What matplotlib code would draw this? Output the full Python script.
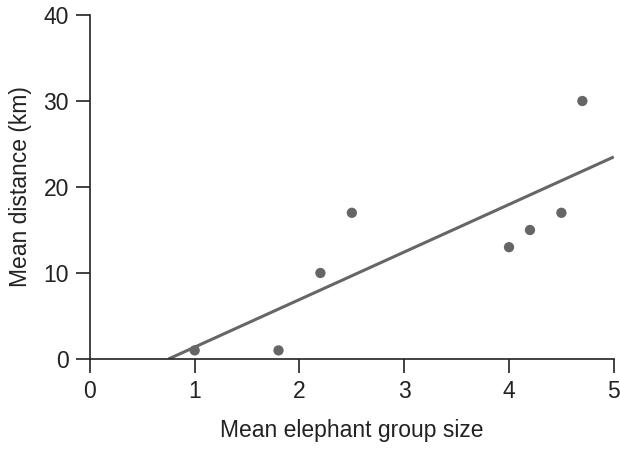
import numpy as np
import matplotlib
matplotlib.use("Agg")
import matplotlib.pyplot as plt

plt.rcParams['font.family'] = ['Liberation Sans', 'DejaVu Sans']

# observed points
group_size = [1.0, 1.8, 2.2, 2.5, 4.0, 4.2, 4.5, 4.7]
distance = [1, 1, 10, 17, 13, 15, 17, 30]

# fitted line end points
fit_x = [0.75, 5.0]
fit_y = [0.0, 23.5]

x_ticks = [0, 1, 2, 3, 4, 5]
y_ticks = [0, 10, 20, 30, 40]

fig = plt.figure(figsize=(6.2, 4.55), dpi=100)
ax = fig.add_axes([0.145, 0.211, 0.845, 0.756])

ax.plot(fit_x, fit_y, color='#666666', lw=2.2, solid_capstyle='butt', zorder=2)
ax.scatter(group_size, distance, s=55, color='#666666', edgecolors='none', zorder=3)

ax.set_xlim(0, 5)
ax.set_ylim(0, 40)
ax.set_xticks(x_ticks)
ax.set_yticks(y_ticks)

for s in ['top', 'right']:
    ax.spines[s].set_visible(False)
for s in ['left', 'bottom']:
    ax.spines[s].set_color('#222222')
    ax.spines[s].set_linewidth(1.2)

ax.tick_params(direction='out', length=10, width=1.2, colors='#222222',
               labelsize=16.5, pad=5)

ax.set_xlabel("Mean elephant group size", fontsize=16.5, color='#222222', labelpad=12)
ax.set_ylabel("Mean distance (km)", fontsize=16.5, color='#222222', labelpad=8)

fig.savefig("out.png", dpi=100)
